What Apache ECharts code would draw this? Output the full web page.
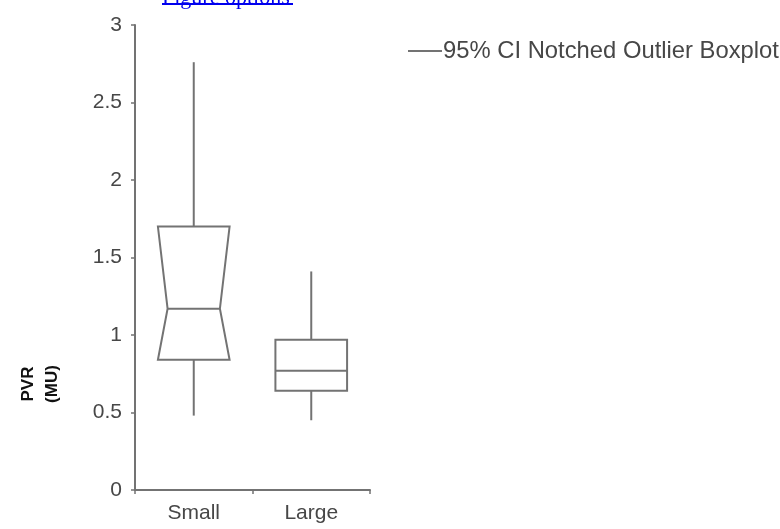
<!DOCTYPE html>
<html>
<head>
<meta charset="utf-8">
<script src="https://cdn.jsdelivr.net/npm/echarts@6/dist/echarts.min.js"></script>
<style>
  html, body { margin: 0; padding: 0; background: #fff; }
  #chart { width: 780px; height: 529px; }
</style>
</head>
<body>
<div id="chart"></div>
<script>
// Pulmonary vascular resistance by group
const categories = ['Small', 'Large'];
const whiskerLow = [0.48, 0.45];
const quartile1 = [0.84, 0.64];
const medians = [1.17, 0.77];
const quartile3 = [1.70, 0.97];
const whiskerHigh = [2.76, 1.41];
// 95% confidence interval of the median (notch limits)
const ciLow = [0.84, 0.56];
const ciHigh = [1.70, 0.98];
const yTicks = [0, 0.5, 1, 1.5, 2, 2.5, 3];

const lineColor = '#737373';
const textColor = '#474747';

const boxData = categories.map((c, i) => [
  i, whiskerLow[i], quartile1[i], medians[i], quartile3[i], whiskerHigh[i], ciLow[i], ciHigh[i]
]);

function renderBox(params, api) {
  const idx = api.value(0);
  const lo = api.coord([idx, api.value(1)]);
  const q1 = api.coord([idx, api.value(2)]);
  const med = api.coord([idx, api.value(3)]);
  const q3 = api.coord([idx, api.value(4)]);
  const hi = api.coord([idx, api.value(5)]);
  const cLo = api.value(6), cHi = api.value(7);
  const halfW = api.size([1, 0])[0] * 0.305;
  const cx = med[0];
  const L = cx - halfW, R = cx + halfW;
  // notch drawn only when the CI lies within the hinges
  const notched = cLo >= api.value(2) && cHi <= api.value(4);
  const inset = notched ? halfW * 0.27 : 0;
  let pts;
  if (notched) {
    const yl = api.coord([idx, cLo])[1];
    const yh = api.coord([idx, cHi])[1];
    pts = [[L, q3[1]], [R, q3[1]], [R, yh], [R - inset, med[1]], [R, yl], [R, q1[1]],
           [L, q1[1]], [L, yl], [L + inset, med[1]], [L, yh]];
  } else {
    pts = [[L, q3[1]], [R, q3[1]], [R, q1[1]], [L, q1[1]]];
  }
  const st = { stroke: lineColor, lineWidth: 2, fill: null };
  return {
    type: 'group',
    children: [
      { type: 'line', shape: { x1: cx, y1: hi[1], x2: cx, y2: q3[1] }, style: st },
      { type: 'line', shape: { x1: cx, y1: q1[1], x2: cx, y2: lo[1] }, style: st },
      { type: 'polygon', shape: { points: pts }, style: { stroke: lineColor, lineWidth: 2, fill: '#fff' } },
      { type: 'line', shape: { x1: L + inset, y1: med[1], x2: R - inset, y2: med[1] }, style: st }
    ]
  };
}

const chart = echarts.init(document.getElementById('chart'), null, { renderer: 'canvas' });
chart.setOption({
  animation: false,
  backgroundColor: '#ffffff',
  textStyle: { fontFamily: 'Liberation Sans, Arial, sans-serif' },
  grid: { left: 135, right: 410, top: 25, bottom: 39 },
  legend: {
    data: [{ name: '95% CI Notched Outlier Boxplot', icon: 'rect' }],
    left: 403, top: 34,
    itemWidth: 34, itemHeight: 2, itemGap: 4,
    textStyle: { fontSize: 23.8, color: textColor, fontFamily: 'Liberation Sans, Arial, sans-serif', padding: [0, 0, 0, -4] }
  },
  xAxis: {
    type: 'category',
    data: categories,
    boundaryGap: true,
    axisLine: { lineStyle: { color: lineColor, width: 2 } },
    axisTick: { show: true, length: 4, lineStyle: { color: lineColor, width: 1.5 } },
    axisLabel: { fontSize: 21, color: textColor, margin: 13 }
  },
  yAxis: {
    type: 'value',
    min: yTicks[0],
    max: yTicks[yTicks.length - 1],
    interval: 0.5,
    splitLine: { show: false },
    axisLine: { show: true, lineStyle: { color: lineColor, width: 2 } },
    axisTick: { show: true, length: 4, lineStyle: { color: lineColor, width: 1.5 } },
    axisLabel: { fontSize: 21, color: textColor, margin: 13 }
  },
  series: [{
    name: '95% CI Notched Outlier Boxplot',
    type: 'custom',
    renderItem: renderBox,
    itemStyle: { color: lineColor },
    encode: { x: 0, y: [1, 2, 3, 4, 5] },
    data: boxData
  }],
  graphic: [
    {
      type: 'text', x: 40, y: 384, rotation: Math.PI / 2,
      style: {
        text: 'PVR\n(MU)', fontSize: 17, fontWeight: 'bold', fill: '#111',
        fontFamily: 'Liberation Sans, Arial, sans-serif',
        align: 'center', verticalAlign: 'middle', lineHeight: 24
      }
    },
    {
      type: 'text', x: 162, y: 9,
      style: {
        text: 'Figure options', fontSize: 22, fill: '#0000ee',
        fontFamily: 'Liberation Serif, Times New Roman, serif',
        verticalAlign: 'bottom'
      }
    },
    {
      type: 'line', shape: { x1: 162, y1: 4, x2: 293, y2: 4 },
      style: { stroke: '#0000ee', lineWidth: 2 }
    }
  ]
});
</script>
</body>
</html>
